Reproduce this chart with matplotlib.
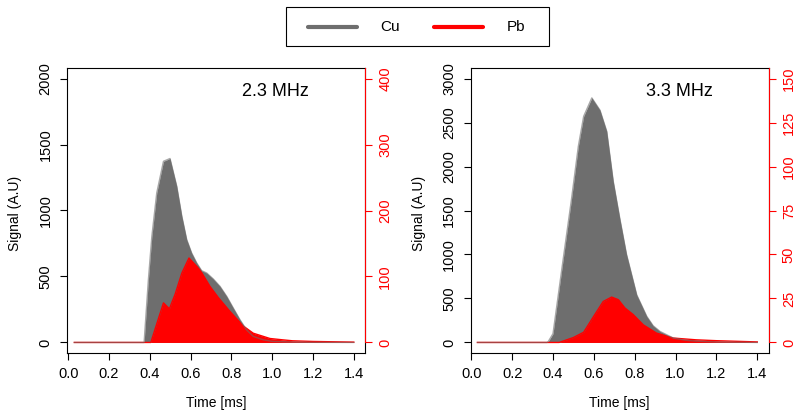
import matplotlib
matplotlib.use("Agg")
import matplotlib.pyplot as plt
from matplotlib.lines import Line2D
from matplotlib.patches import Rectangle

plt.rcParams['font.family'] = ['Liberation Sans', 'DejaVu Sans']

# ---------------- data ----------------
cu23_t = [0.03, 0.372, 0.393, 0.410, 0.434, 0.467, 0.499, 0.532, 0.557, 0.581, 0.605,
          0.630, 0.654, 0.679, 0.711, 0.744, 0.777, 0.809, 0.842, 0.874, 0.907, 0.956,
          1.00, 1.10, 1.20, 1.40]
cu23_v = [0, 0, 476, 804, 1133, 1373, 1394, 1184, 956, 779, 678,
          602, 544, 526, 481, 425, 349, 261, 172, 96, 46, 20,
          8, 3, 1, 0]
pb23_t = [0.03, 0.405, 0.467, 0.496, 0.524, 0.557, 0.592, 0.646, 0.695, 0.736, 0.793,
          0.858, 0.907, 0.989, 1.05, 1.10, 1.20, 1.40]
pb23_v = [0, 0, 60, 51, 73, 105, 128, 110, 85, 68, 47,
          25, 14, 6, 4, 2.5, 1.5, 0.5]

cu33_t = [0.03, 0.37, 0.377, 0.40, 0.45, 0.49, 0.524, 0.55, 0.59, 0.63, 0.663, 0.695,
          0.728, 0.760, 0.81, 0.859, 0.89, 0.924, 0.989, 1.05, 1.10, 1.20, 1.40]
cu33_v = [0, 0, 11, 100, 950, 1620, 2230, 2570, 2780, 2640, 2400, 1830,
          1396, 1000, 540, 296, 190, 125, 50, 25, 15, 5, 0]
pb33_t = [0.03, 0.43, 0.50, 0.55, 0.60, 0.646, 0.687, 0.72, 0.752, 0.793, 0.842,
          0.907, 0.989, 1.10, 1.20, 1.40]
pb33_v = [0, 0, 2.8, 5.8, 15, 23.3, 25.8, 24.3, 19.6, 15.8, 10,
          5.3, 2.5, 1.5, 1.0, 0.3]

x_ticks = [0.0, 0.2, 0.4, 0.6, 0.8, 1.0, 1.2, 1.4]
x_ticklabels = ["0.0", "0.2", "0.4", "0.6", "0.8", "1.0", "1.2", "1.4"]

panels = [
    dict(title="2.3 MHz", cu_t=cu23_t, cu_v=cu23_v, pb_t=pb23_t, pb_v=pb23_v,
         yl=[0, 500, 1000, 1500, 2000], yr=[0, 100, 200, 300, 400],
         ylim=(-80, 2080), yrlim=(-16, 416), xlim=(-0.006, 1.455),
         rect=[67/798, 1-353/412, 298/798, 285/412]),
    dict(title="3.3 MHz", cu_t=cu33_t, cu_v=cu33_v, pb_t=pb33_t, pb_v=pb33_v,
         yl=[0, 500, 1000, 1500, 2000, 2500, 3000], yr=[0, 25, 50, 75, 100, 125, 150],
         ylim=(-120, 3120), yrlim=(-6, 156), xlim=(-0.003, 1.456),
         rect=[470.7/798, 1-353/412, 298/798, 285/412]),
]

GREY = "#6e6e6e"
RED = "#ff0000"

fig = plt.figure(figsize=(7.98, 4.12), dpi=100)

for p in panels:
    ax = fig.add_axes(p["rect"])
    ax.fill_between(p["cu_t"], p["cu_v"], 0, color=GREY, lw=0)
    ax.set_xlim(*p["xlim"])
    ax.set_ylim(*p["ylim"])
    ax.set_xticks(x_ticks)
    ax.set_xticklabels(x_ticklabels)
    ax.set_yticks(p["yl"])
    ax.set_yticklabels([str(v) for v in p["yl"]], rotation=90, va="center")
    ax.tick_params(axis="x", direction="out", length=5, width=0.8, pad=5, labelsize=10.5)
    ax.tick_params(axis="y", direction="out", length=5, width=0.8, pad=5.5, labelsize=10.5)
    for s in ax.spines.values():
        s.set_linewidth(0.8)
        s.set_color("black")
    ax.set_xlabel("Time [ms]", fontsize=10, va="center")
    ax.xaxis.set_label_coords(0.5, -0.175)
    ax.set_ylabel("Signal (A.U)", fontsize=10, va="center")
    ax.yaxis.set_label_coords(-0.175, 0.49)

    ax2 = ax.twinx()
    ax2.fill_between(p["pb_t"], p["pb_v"], 0, color=RED, lw=0)
    ax2.plot(p["pb_t"], p["pb_v"], color=RED, lw=1.0)
    ax2.plot(p["cu_t"], p["cu_v"], color=GREY, lw=1.0, alpha=0.6, transform=ax.transData)
    ax2.set_xlim(*p["xlim"])
    ax2.set_ylim(*p["yrlim"])
    ax2.set_yticks(p["yr"])
    ax2.set_yticklabels([str(v) for v in p["yr"]], rotation=90, va="center")
    ax2.tick_params(axis="y", direction="out", length=5, width=0.8, pad=4.5,
                    labelsize=10.5, colors=RED)
    for k in ["top", "bottom", "left"]:
        ax2.spines[k].set_visible(False)
    ax2.spines["right"].set_color(RED)
    ax2.spines["right"].set_linewidth(0.8)
    ax2.spines["right"].set_bounds(0, p["yrlim"][1])

    ax.text(0.699, 0.916, p["title"], transform=ax.transAxes, ha="center", va="center",
            fontsize=13)

# ---------------- legend (manual, R style) ----------------
W, H = 798.0, 412.0
def fx(x):
    return x / W
def fy(y):
    return 1 - y / H

fig.add_artist(Rectangle((fx(286), fy(46)), (549-286)/W, (46-7)/H, transform=fig.transFigure,
                         fill=False, edgecolor="black", lw=0.8))
legend_items = [("Cu", GREY, 308, 357, 380), ("Pb", RED, 434, 483, 507)]
for name, col, x0, x1, xt in legend_items:
    fig.add_artist(Line2D([fx(x0), fx(x1)], [fy(27), fy(27)], transform=fig.transFigure,
                          color=col, lw=3, solid_capstyle="round"))
    fig.text(fx(xt), fy(27), name, ha="left", va="center", fontsize=11)

fig.savefig("out.png", dpi=100)
